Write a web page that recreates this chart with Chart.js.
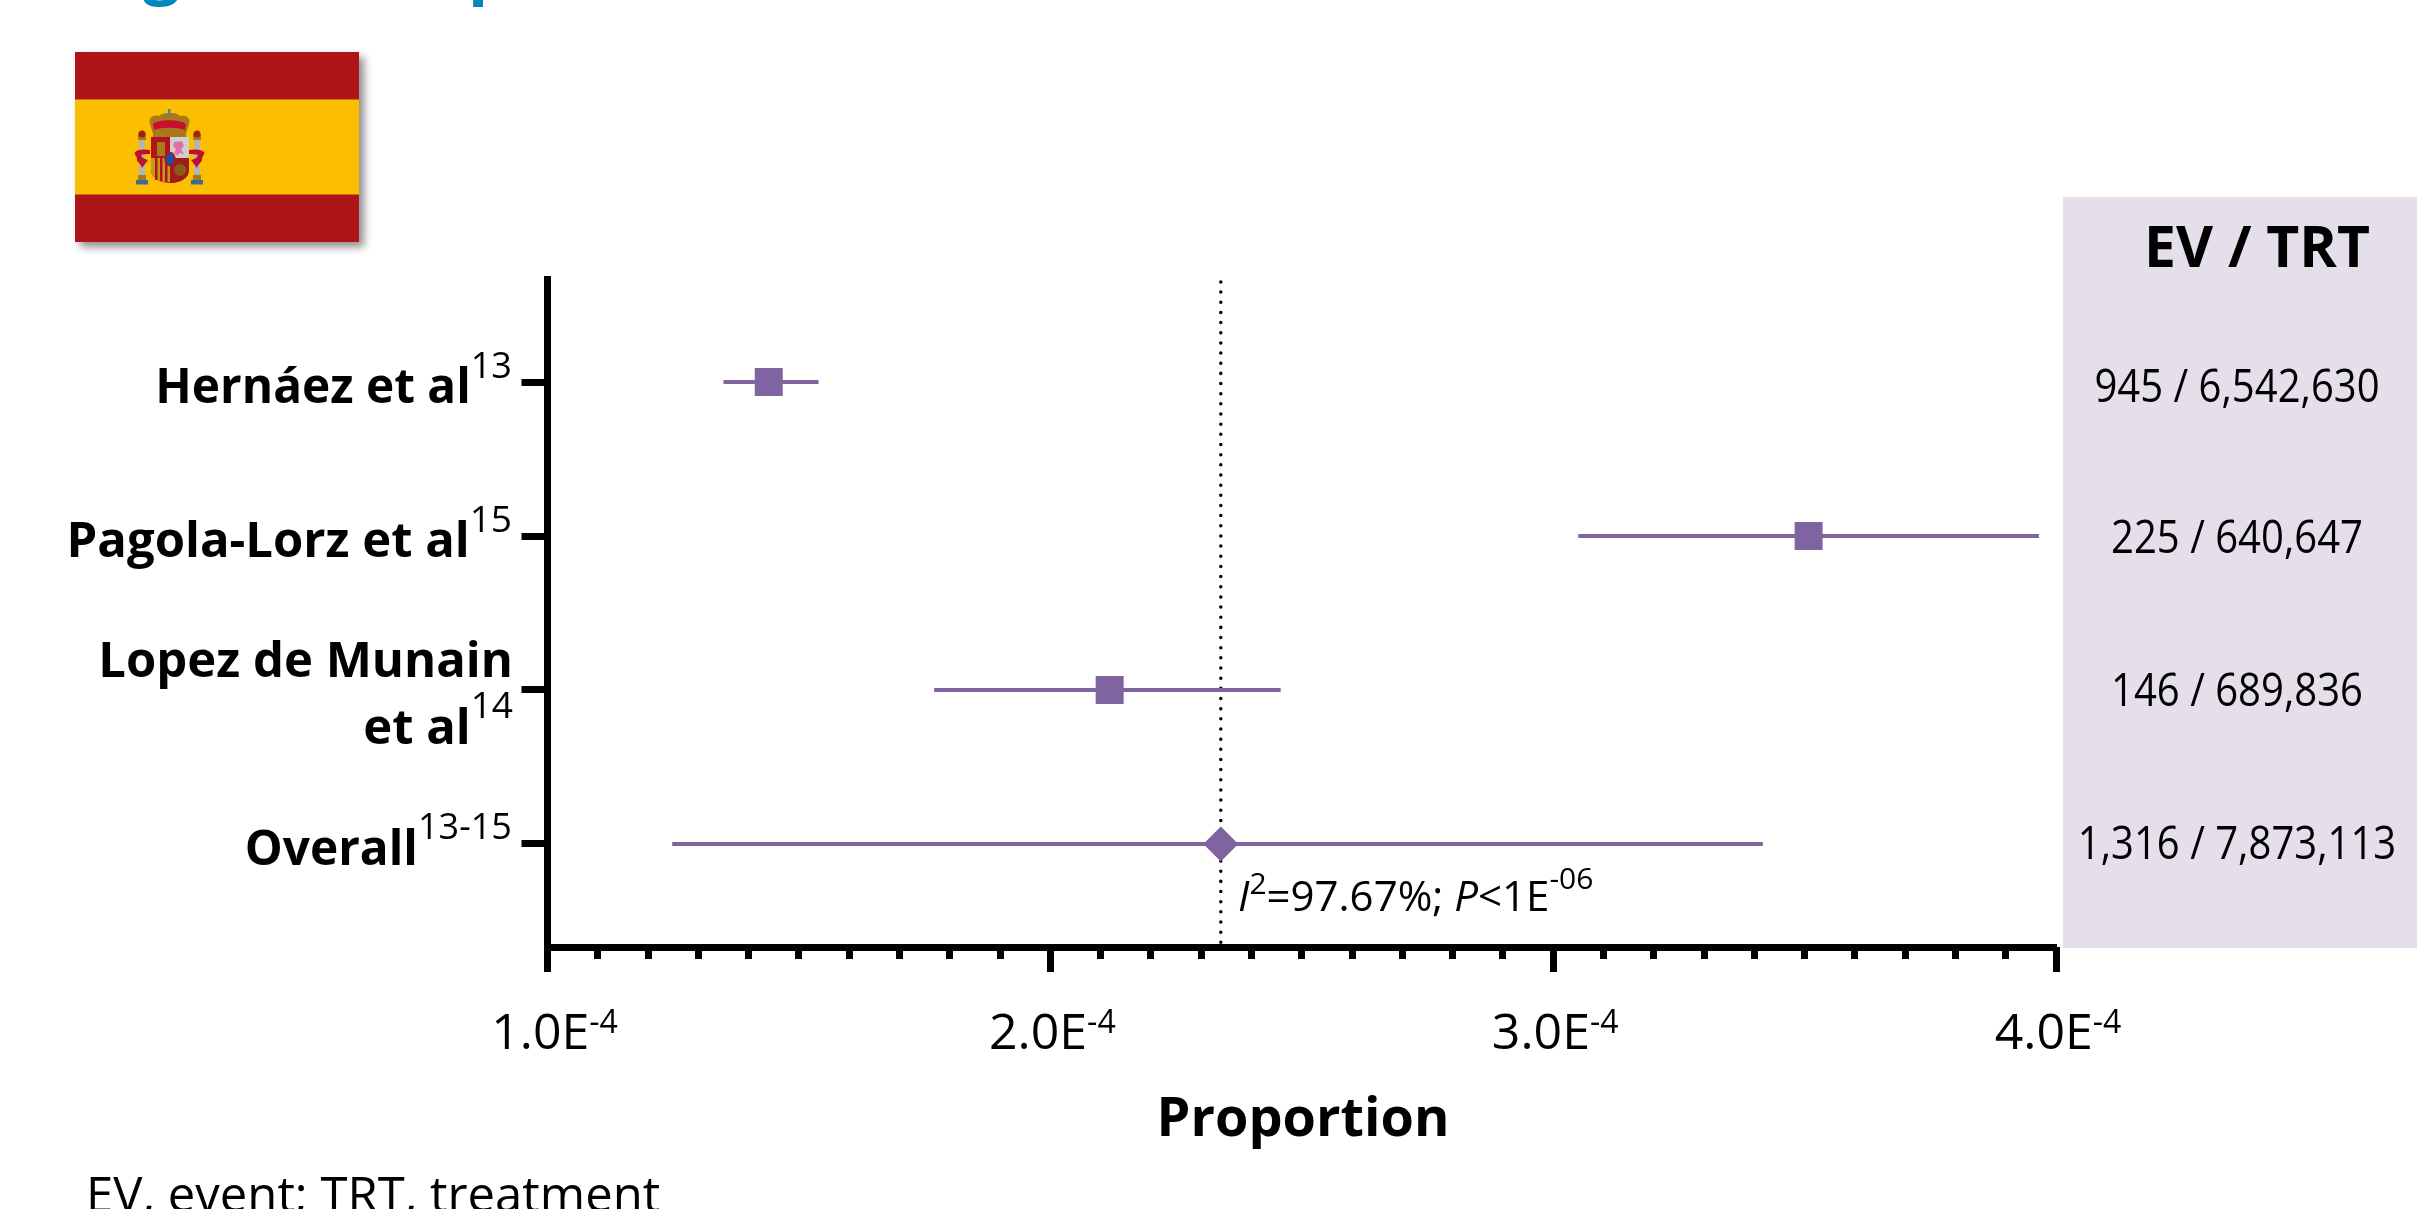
<!DOCTYPE html>
<html><head><meta charset="utf-8">
<style>
html,body{margin:0;padding:0;background:#fff;width:2417px;height:1209px;overflow:hidden}
#wrap{position:absolute;left:0;top:0;width:2417px;height:1209px}
#flag{position:absolute;left:75px;top:52px;width:284px;height:190px;filter:drop-shadow(5px 5px 4px rgba(0,0,0,.45))}
</style>
<script src="https://cdn.jsdelivr.net/npm/chart.js@4/dist/chart.umd.min.js"></script>
</head><body>
<div id="wrap"><canvas id="c" width="2417" height="1209"></canvas>
<svg id="flag" viewBox="75 52 284 190" xmlns="http://www.w3.org/2000/svg" aria-hidden="true">
<rect x="75" y="52" width="284" height="190" fill="#AD1519"/>
<rect x="75" y="99.5" width="284" height="95" fill="#FCBE00"/>
<!-- pillars -->
<rect x="139" y="140" width="6" height="40" fill="#B4B4B4"/><rect x="194" y="140" width="6" height="40" fill="#B4B4B4"/>
<rect x="138" y="134" width="8" height="6" fill="#A8781A"/><rect x="193" y="134" width="8" height="6" fill="#A8781A"/>
<circle cx="142" cy="134" r="3.5" fill="#A5200F"/><circle cx="197" cy="134" r="3.5" fill="#A5200F"/>
<rect x="138" y="175" width="8" height="5" fill="#A8781A"/><rect x="193" y="175" width="8" height="5" fill="#A8781A"/>
<rect x="136" y="180" width="12" height="4.5" fill="#3A6C9A"/><rect x="191" y="180" width="12" height="4.5" fill="#3A6C9A"/>
<!-- ribbons -->
<path d="M135 152c3-3 10-3 15-2v4c-4 0-7 0-9 1 1 3 3 4 7 5l-6 8c-1-5-6-6-5-9 0-3-3-4-2-7z" fill="#C00F2A"/>
<path d="M204 152c-3-3-10-3-15-2v4c4 0 7 0 9 1-1 3-3 4-7 5l6 8c1-5 6-6 5-9 0-3 3-4 2-7z" fill="#C00F2A"/>
<!-- crown -->
<path d="M150 124c-2-6 3-10 9-8 3-3 7-3 11-3s7 0 10 3c6-2 11 2 9 8l-4 13h-31z" fill="#A8781A"/>
<path d="M153 124c5-5 27-5 33 0l-1 6c-7-3-24-3-31 0z" fill="#C8102E"/>
<rect x="153" y="131" width="33" height="6" fill="#A8781A"/>
<rect x="168" y="109" width="2.5" height="7" fill="#5A7F9E"/>
<!-- shield -->
<path d="M151 137h38v33c0 8-9 13-19 13s-19-5-19-13z" fill="#B5121F"/>
<rect x="170" y="137" width="19" height="21" fill="#CFCFCF"/>
<path d="M174 142l8-1 2 5-3 3 3 5-5-1-1 3-4-3 2-4-3-3z" fill="#E26FA8"/>
<rect x="157" y="142" width="8" height="14" fill="#A67C18"/>
<path d="M151 158h19v24c-10 1-19-4-19-12z" fill="#C49A1C"/>
<path d="M155 158h2.5v22h-2.5zM160 158h2.5v23h-2.5zM165 158h2.5v24h-2.5z" fill="#B5121F"/>
<path d="M170 158h19v12c0 8-9 13-19 13z" fill="#A01C18"/>
<circle cx="180" cy="170" r="6" fill="#8C5A1A"/>
<ellipse cx="170" cy="159" rx="5" ry="6.5" fill="#1F4E9C" stroke="#B5121F" stroke-width="1.5"/>
</svg></div>
<script>
const categories = ["Hernáez et al", "Pagola-Lorz et al", "Lopez de Munain", "Overall"];
const categorySecondLine = ["", "", "et al", ""];
const references = ["13", "15", "14", "13-15"];
const rowIndex = [0, 1, 2, 3];
const estimate = [1.44e-4, 3.508e-4, 2.118e-4, 2.339e-4];
const lower = [1.35e-4, 3.05e-4, 1.769e-4, 1.248e-4];
const upper = [1.539e-4, 3.966e-4, 2.458e-4, 3.417e-4];
const tableValues = ["945 / 6,542,630", "225 / 640,647", "146 / 689,836", "1,316 / 7,873,113"];
const tableHeader = "EV / TRT";
const xTicks = [1e-4, 2e-4, 3e-4, 4e-4];
const xTickLabels = ["1.0E", "2.0E", "3.0E", "4.0E"];
const xTickExponent = "-4";
const xTitle = "Proportion";
const footnote = "EV, event; TRT, treatment";
const PURPLE = "#8064A2";
const F = '"Open Sans", "Noto Sans", sans-serif';

function runs(ctx, parts, x, align, sx) {
  sx = sx || 1;
  let w = 0;
  parts.forEach(p => { ctx.font = p[1]; w += ctx.measureText(p[0]).width * sx; });
  let cx = align === 'right' ? x - w : align === 'center' ? x - w / 2 : x;
  ctx.textAlign = 'left'; ctx.textBaseline = 'alphabetic'; ctx.fillStyle = '#000';
  parts.forEach(p => {
    ctx.font = p[1];
    ctx.save(); ctx.translate(cx, p[2]); ctx.scale(sx, 1); ctx.fillText(p[0], 0, 0); ctx.restore();
    cx += ctx.measureText(p[0]).width * sx;
  });
}
const decor = {
  id: 'decor',
  beforeDraw(chart) {
    const ctx = chart.ctx;
    ctx.save();
    ctx.fillStyle = '#E4DFEB';
    ctx.fillRect(2063, 197, 354, 751);
    ctx.restore();
  },
  afterDraw(chart) {
    const ctx = chart.ctx, xs = chart.scales.x, ys = chart.scales.y;
    ctx.save();
    ctx.fillStyle = '#0087BB'; ctx.font = 'bold 66px ' + F; ctx.textBaseline = 'alphabetic'; ctx.textAlign = 'left';
    ctx.fillText('g', 143, -9); ctx.fillText('p', 468, -9);
    const bold = 'bold 49px ' + F, sup = '37px ' + F;
    const labelScale = [0.975, 1, 1, 0.975];
    categories.forEach((c, i) => {
      const y = ys.getPixelForValue(rowIndex[i]);
      if (categorySecondLine[i]) {
        runs(ctx, [[c, bold, y - 13]], 513, 'right');
        runs(ctx, [[categorySecondLine[i], bold, y + 54.5], [references[i], sup, y + 28]], 513, 'right');
      } else {
        runs(ctx, [[c, bold, y + 21], [references[i], sup, y - 4.5]], 512, 'right', labelScale[i]);
      }
    });
    const tickNudge = [7, 2, 2, 2];
    xTicks.forEach((v, i) => {
      const x = xs.getPixelForValue(v) + tickNudge[i];
      runs(ctx, [[xTickLabels[i], '50px ' + F, 1049], [xTickExponent, '32px ' + F, 1033]], x, 'center');
    });
    runs(ctx, [[xTitle, 'bold 54px ' + F, 1136]], 1303, 'center');
    runs(ctx, [['I', 'italic 42px ' + F, 911], ['2', '30px ' + F, 894], ['=97.67%; ', '42px ' + F, 911], ['P', 'italic 42px ' + F, 911], ['<1E', '42px ' + F, 911], ['-06', '30px ' + F, 889]], 1238, 'left');
    runs(ctx, [[tableHeader, 'bold 57px ' + F, 267]], 2257, 'center');
    const tableOffset = [20, 16.6, 15.7, 14.8];
    tableValues.forEach((t, i) => {
      runs(ctx, [[t, '45px ' + F, ys.getPixelForValue(rowIndex[i]) + tableOffset[i]]], 2237, 'center', 0.89);
    });
    runs(ctx, [[footnote, '49px ' + F, 1212]], 86, 'left');
    ctx.restore();
  }
};
const zeroH = s => { s.height = 0; };
const zeroW = s => { s.width = 0; };
const ciData = [];
rowIndex.forEach((r, i) => { ciData.push({x: lower[i], y: r}, {x: upper[i], y: r}, {x: null, y: null}); });
new Chart(document.getElementById('c'), {
  type: 'scatter',
  data: { datasets: [
    { type: 'line', label: 'Pooled', data: [{x: estimate[3], y: -0.65}, {x: estimate[3], y: 3.65}], borderColor: '#000', borderWidth: 3.5, borderDash: [0.01, 10.15], borderCapStyle: 'round', pointRadius: 0, order: 3, clip: false },
    { type: 'line', label: '95% CI', data: ciData, borderColor: PURPLE, borderWidth: 4, pointRadius: 0, spanGaps: false, order: 2, clip: false },
    { type: 'scatter', label: 'Estimate', data: rowIndex.map((r, i) => ({x: estimate[i], y: r})), backgroundColor: PURPLE, borderWidth: 0,
      pointStyle: ['rect', 'rect', 'rect', 'rectRot'], pointRadius: [19.8, 19.8, 19.8, 17.5], order: 1, clip: false }
  ]},
  options: {
    responsive: false, animation: false, events: [],
    layout: { padding: { left: 547.5, right: 361, top: 279, bottom: 262 } },
    plugins: { legend: { display: false }, tooltip: { enabled: false }, title: { display: false } },
    scales: {
      x: { type: 'linear', position: 'bottom', min: 1e-4, max: 4e-4, afterFit: zeroH,
        afterBuildTicks: s => { s.ticks = xTicks.map(v => ({value: v})); },
        ticks: { display: false, autoSkip: false },
        grid: { drawOnChartArea: false, drawTicks: true, tickLength: 25, tickWidth: 7, tickColor: '#000' },
        border: { display: true, color: '#000', width: 7 } },
      xMinor: { type: 'linear', position: 'bottom', min: 1e-4, max: 4e-4, afterFit: zeroH,
        ticks: { display: false, autoSkip: false, stepSize: 1e-5, maxTicksLimit: 100 },
        grid: { drawOnChartArea: false, drawTicks: true, tickLength: 12, tickWidth: 7, tickColor: '#000' },
        border: { display: false } },
      y: { type: 'linear', position: 'left', reverse: true, min: -0.669, max: 3.669, afterFit: zeroW,
        afterBuildTicks: s => { s.ticks = rowIndex.map(v => ({value: v})); },
        ticks: { display: false, autoSkip: false },
        grid: { drawOnChartArea: false, drawTicks: true, tickLength: 26, tickWidth: 7, tickColor: '#000' },
        border: { display: true, color: '#000', width: 7 } }
    }
  },
  plugins: [decor]
});
</script>
</body></html>
